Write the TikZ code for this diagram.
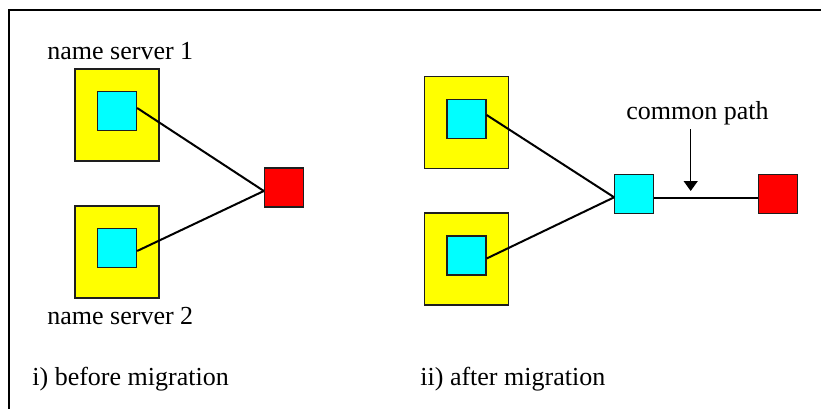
\documentclass[tikz,border=0pt]{standalone}
\usepackage{fontspec}
\setmainfont{Liberation Serif}
\usetikzlibrary{arrows.meta}
\definecolor{serveryellow}{RGB}{255,255,0}
\definecolor{namecyan}{RGB}{0,255,255}
\definecolor{targetred}{RGB}{255,0,0}
\definecolor{borderdark}{RGB}{30,30,30}
\begin{document}
\begin{tikzpicture}[x=1pt,y=-1pt,thick,
    server node/.style={rectangle,draw=borderdark,line width=1.3pt,fill=serveryellow,minimum width=84pt,minimum height=92pt,inner sep=0pt},
    name node/.style={rectangle,draw=borderdark,line width=1.3pt,fill=namecyan,minimum size=39pt,inner sep=0pt},
    target node/.style={rectangle,draw=borderdark,line width=1.3pt,fill=targetred,minimum size=39pt,inner sep=0pt},
    label node/.style={anchor=base west,inner sep=0pt,font=\fontsize{26}{30}\selectfont},
    link/.style={draw=black,line width=2pt}]
                \useasboundingbox (0,0) rectangle (821,409);
                \draw[line width=2pt] (8.5,409) -- (8.5,10.5) -- (821,10.5);
                % i) before migration
                \node[server node] at (117, 115) (s1) {};
                \node[server node] at (117, 252) (s2) {};
                \node[name node] at (117, 111) (a) {};
                \node[name node] at (117, 248) (b) {};
                \node[target node] at (284, 187.5) (t) {};
                \node[label node] at (47, 60) (n1) {name server 1};
                \node[label node] at (47, 324) (n2) {name server 2};
                \node[label node] at (32, 385) (i) {i) before migration};
                \path ([yshift=3pt]a.east) edge[link] ([yshift=-3.5pt]t.west);
                \path ([yshift=-3pt]b.east) edge[link] ([yshift=-3.5pt]t.west);
                % ii) after migration
                \node[server node] at (466.5, 122.5) (s3) {};
                \node[server node] at (466.5, 259) (s4) {};
                \node[name node] at (466.5, 119) (c) {};
                \node[name node] at (466.5, 255.5) (d) {};
                \node[name node] at (634.3, 194.3) (e) {};
                \node[target node] at (778.3, 194.3) (f) {};
                \node[label node] at (626, 120) (cp) {common path};
                \node[label node] at (420, 385) (ii) {ii) after migration};
                \coordinate (tail) at (690.7, 129.3);
                \coordinate (tip) at (690.7, 191);
                \path ([yshift=4pt]c.east) edge[link] ([yshift=-3pt]e.west);
                \path ([yshift=-3pt]d.east) edge[link] ([yshift=-3pt]e.west);
                \path ([yshift=-4pt]e.east) edge[link] ([yshift=-4pt]f.west);
                \path (tail) edge[link,line width=1.5pt,-{Triangle[width=14pt,length=10pt]}] (tip);

            \end{tikzpicture}
\end{document}
